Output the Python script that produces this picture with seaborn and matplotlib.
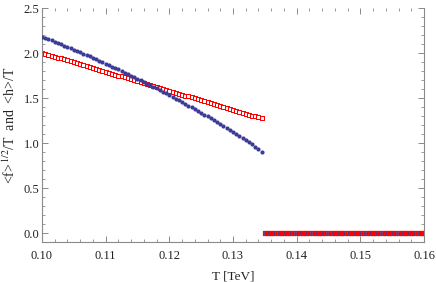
import seaborn as sns
import matplotlib.pyplot as plt
from matplotlib.ticker import MultipleLocator
import pandas as pd
import numpy as np

# temperature grid (TeV) for the broken phase and the symmetric phase
t_low_start, t_step = 0.100, 0.0005
t_high_start, t_high_end = 0.135, 0.160

# <f>^{1/2}/T  (blue dots)
f_vals = [2.180, 2.166, 2.153, 2.139, 2.125, 2.111, 2.097, 2.082, 2.068, 2.053,
          2.038, 2.023, 2.008, 1.993, 1.978, 1.962, 1.947, 1.931, 1.915, 1.899,
          1.883, 1.867, 1.850, 1.834, 1.817, 1.800, 1.783, 1.766, 1.749, 1.732,
          1.714, 1.697, 1.679, 1.661, 1.643, 1.625, 1.606, 1.588, 1.569, 1.551,
          1.532, 1.513, 1.494, 1.474, 1.455, 1.435, 1.416, 1.396, 1.376, 1.356,
          1.336, 1.315, 1.295, 1.274, 1.253, 1.232, 1.211, 1.190, 1.169, 1.147,
          1.126, 1.104, 1.082, 1.060, 1.037, 1.012, 0.986, 0.958, 0.928, 0.895]

# <h>/T  (red open squares)
h_vals = [2.003, 1.992, 1.982, 1.971, 1.961, 1.950, 1.940, 1.929, 1.918, 1.908,
          1.897, 1.887, 1.876, 1.866, 1.855, 1.844, 1.834, 1.823, 1.813, 1.802,
          1.792, 1.781, 1.770, 1.760, 1.749, 1.739, 1.728, 1.718, 1.707, 1.696,
          1.686, 1.675, 1.665, 1.654, 1.644, 1.633, 1.622, 1.612, 1.601, 1.591,
          1.580, 1.570, 1.559, 1.548, 1.538, 1.527, 1.517, 1.506, 1.496, 1.485,
          1.474, 1.464, 1.453, 1.443, 1.432, 1.422, 1.411, 1.400, 1.390, 1.379,
          1.369, 1.358, 1.348, 1.337, 1.326, 1.316, 1.305, 1.295, 1.284, 1.274]

t_low = np.round(t_low_start + t_step * np.arange(len(f_vals)), 5)
t_high = np.round(np.arange(t_high_start, t_high_end + t_step / 2, t_step), 5)
zero_vals = np.zeros(len(t_high))

low = pd.DataFrame({"T": t_low, "f": f_vals, "h": h_vals})
high = pd.DataFrame({"T": t_high, "f": zero_vals, "h": zero_vals})

sns.set_theme(style="ticks")
plt.rcParams['font.family'] = ['Liberation Serif', 'DejaVu Serif']
plt.rcParams['mathtext.fontset'] = 'stix'

blue = "#3c3c98"
red = "#ff0000"
grey = "#8a8a8a"
txt = "#222222"

fig = plt.figure(figsize=(4.36, 2.82), dpi=100)
ax = fig.add_axes([0.0963, 0.1418, 0.8762, 0.8298])

# broken phase: blue dots drawn over the red squares
sns.scatterplot(data=low, x="T", y="h", ax=ax, marker="s", s=7,
                facecolor="white", edgecolor=red, linewidth=0.75,
                legend=False, zorder=2)
sns.scatterplot(data=low, x="T", y="f", ax=ax, color=blue, marker="o",
                s=9, linewidth=0, legend=False, zorder=3)
# symmetric phase: red squares on top
sns.scatterplot(data=high, x="T", y="f", ax=ax, color=blue, marker="o",
                s=6, linewidth=0, legend=False, zorder=2)
sns.scatterplot(data=high, x="T", y="h", ax=ax, marker="s", s=8,
                facecolor="none", edgecolor=red, linewidth=0.9,
                legend=False, zorder=3)

ax.set_xlim(0.10, 0.16)
ax.set_ylim(-0.1, 2.5)
ax.xaxis.set_major_locator(MultipleLocator(0.01))
ax.xaxis.set_minor_locator(MultipleLocator(0.002))
ax.yaxis.set_major_locator(MultipleLocator(0.5))
ax.yaxis.set_minor_locator(MultipleLocator(0.1))
ax.xaxis.set_major_formatter(plt.FormatStrFormatter('%.2f'))
ax.yaxis.set_major_formatter(plt.FormatStrFormatter('%.1f'))

ax.spines['top'].set_visible(False)
for side in ('left', 'right', 'bottom'):
    ax.spines[side].set_color(grey)
    ax.spines[side].set_linewidth(0.8)

ax.tick_params(which='both', direction='in', top=True, right=True,
               color=grey, labelsize=9, labelcolor=txt)
ax.tick_params(axis='x', pad=6)
ax.tick_params(axis='y', pad=2)
ax.tick_params(which='major', length=4, width=0.7)
ax.tick_params(which='minor', length=2.2, width=0.6)

ax.set_xlabel("T [TeV]", fontsize=9.5, color=txt, labelpad=6)
ax.set_ylabel(r"<f>$^{\,1/2}$/T  and  <h>/T", fontsize=10, color=txt,
              labelpad=4)

fig.savefig("out.png", dpi=100)
